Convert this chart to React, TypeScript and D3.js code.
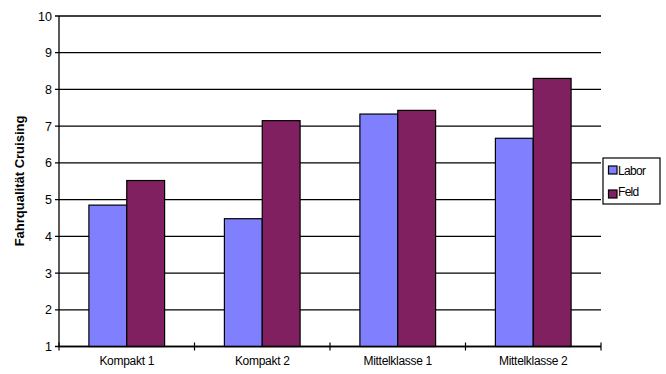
import React from "react";
import * as d3 from "d3";

const categories = ["Kompakt 1", "Kompakt 2", "Mittelklasse 1", "Mittelklasse 2"];
const seriesNames = ["Labor", "Feld"];
const laborValues = [4.85, 4.48, 7.33, 6.67];
const feldValues = [5.52, 7.15, 7.43, 8.3];
const yTicks = [1, 2, 3, 4, 5, 6, 7, 8, 9, 10];
const colors = ["#8080FF", "#802060"];

const W = 666;
const H = 374;
const plot = { left: 59, right: 601, top: 16, bottom: 346.5 };
const font = "'Liberation Sans', Arial, sans-serif";

export default function App() {
  const x = d3
    .scaleBand<string>()
    .domain(categories)
    .range([plot.left, plot.right])
    .paddingInner(0)
    .paddingOuter(0);
  const inner = d3
    .scaleBand<string>()
    .domain(seriesNames)
    .range([0, x.bandwidth()])
    .paddingOuter(0.79)
    .paddingInner(0);
  const y = d3.scaleLinear().domain([1, 10]).range([plot.bottom, plot.top]);
  const series = [laborValues, feldValues];
  const catTicks = d3.range(categories.length + 1).map((i) => plot.left + i * x.bandwidth());

  return (
    <svg
      width={W}
      height={H}
      style={{ position: "absolute", left: 0, top: 0, background: "#fff" }}
      fontFamily={font}
    >
      {/* gridlines and y ticks */}
      {yTicks.map((t) => (
        <g key={t}>
          <line x1={plot.left - 4} x2={plot.right} y1={y(t)} y2={y(t)} stroke="#000" strokeWidth={1.3} />
          <text x={plot.left - 7} y={y(t) + 4.5} fontSize={12.5} textAnchor="end" fill="#000">
            {t}
          </text>
        </g>
      ))}
      {/* bars */}
      {series.map((vals, si) =>
        categories.map((c, ci) => (
          <rect
            key={`${si}-${ci}`}
            x={(x(c) as number) + (inner(seriesNames[si]) as number)}
            y={y(vals[ci])}
            width={inner.bandwidth()}
            height={y(1) - y(vals[ci])}
            fill={colors[si]}
            stroke="#000"
            strokeWidth={1.2}
          />
        ))
      )}
      {/* axes */}
      <line x1={plot.left} x2={plot.left} y1={plot.top} y2={plot.bottom} stroke="#000" strokeWidth={1.3} />
      <line x1={plot.left} x2={plot.right} y1={plot.bottom} y2={plot.bottom} stroke="#000" strokeWidth={1.3} />
      {catTicks.map((tx, i) => (
        <line key={i} x1={tx} x2={tx} y1={plot.bottom - 4} y2={plot.bottom + 4} stroke="#000" strokeWidth={1.2} />
      ))}
      {categories.map((c) => (
        <text
          key={c}
          x={(x(c) as number) + x.bandwidth() / 2}
          y={365}
          fontSize={12}
          textAnchor="middle"
          fill="#000"
          letterSpacing={-0.3}
        >
          {c}
        </text>
      ))}
      {/* y-axis title */}
      <text
        transform={`translate(24, ${181}) rotate(-90)`}
        fontSize={13}
        fontWeight="bold"
        textAnchor="middle"
        fill="#000"
      >
        Fahrqualität Cruising
      </text>
      {/* legend */}
      <rect x={603} y={158} width={57} height={46} fill="#fff" stroke="#000" strokeWidth={1.2} />
      {seriesNames.map((s, i) => (
        <g key={s}>
          <rect x={608.5} y={166 + i * 24} width={8.5} height={8} fill={colors[i]} stroke="#000" strokeWidth={1.2} />
          <text x={618} y={175 + i * 21} fontSize={12} fill="#000" letterSpacing={-0.7}>
            {s}
          </text>
        </g>
      ))}
    </svg>
  );
}
